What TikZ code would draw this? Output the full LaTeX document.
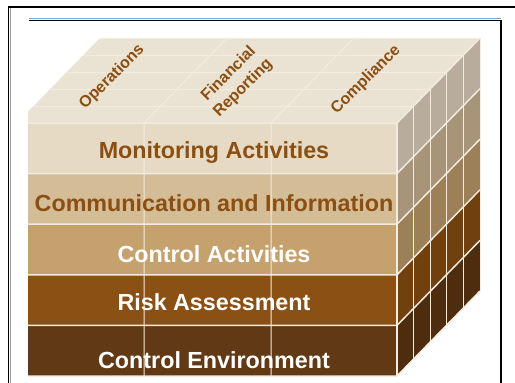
\documentclass[tikz,border=0pt]{standalone}
\usepackage{fontspec}
\setmainfont{Liberation Sans}
\definecolor{topface}{HTML}{EAE2D2}
\definecolor{gridline}{HTML}{F2EBDF}
\definecolor{labelbrown}{HTML}{8B4F12}
\definecolor{monfront}{HTML}{E6DAC4}
\definecolor{monside}{HTML}{B8AC9C}
\definecolor{comfront}{HTML}{D4BC97}
\definecolor{comside}{HTML}{A89478}
\definecolor{actfront}{HTML}{C4A16D}
\definecolor{actside}{HTML}{9C8058}
\definecolor{riskfront}{HTML}{8B5013}
\definecolor{riskside}{HTML}{70400F}
\definecolor{envfront}{HTML}{613914}
\definecolor{envside}{HTML}{4E2C0E}
\tikzset{
  layertext/.style={font=\bfseries\fontsize{23.3}{26}\selectfont, anchor=base},
  objtext/.style={font=\bfseries\fontsize{16}{20.5}\selectfont, text=labelbrown, rotate=45, align=center}
}

\begin{document}
\begin{tikzpicture}[x=1pt,y=-1pt]
  \useasboundingbox (0,0) rectangle (515,383);
  % frames
  \draw[line width=1.6pt] (8.5,383) -- (8.5,7) -- (515,7);
  \draw[black!40, line width=0.8pt] (10.2,8) -- (10.2,383);
  \draw[cyan!50!blue!50, line width=1pt] (29,18.5) -- (501,18.5);
  \draw[line width=1.4pt] (29,20.3) -- (501,20.3) -- (501,383);
  % cube
  \begin{scope}
    \clip (28,0) rectangle (515,383);
    \fill[topface] (17,123) -- (100,38) -- (480,38) -- (397,123) -- cycle;
    \foreach \i/\f/\s in {0/monfront/monside, 1/comfront/comside, 2/actfront/actside, 3/riskfront/riskside, 4/envfront/envside} {
      \pgfmathsetmacro\ya{123+50.6*\i}
      \pgfmathsetmacro\yb{\ya+50.6}
      \fill[\f] (17,\ya) rectangle (397,\yb);
      \fill[\s] (397,\ya) -- (480,\ya-85) -- (480,\yb-85) -- (397,\yb) -- cycle;
    }
    \foreach \i in {0,...,5} \draw[gridline, line width=1.5pt] (17,123+50.6*\i) -- (397,123+50.6*\i) -- ++(83,-85);
    \draw[gridline, line width=1.2pt] (397,123) -- (397,376);
    \foreach \x in {144,271} \draw[gridline, line width=1pt] (\x,376) -- (\x,123) -- ++(83,-85);
    \foreach \k in {1,...,5} \draw[gridline, line width=1pt] (397+16.6*\k,376-17*\k) -- (397+16.6*\k,123-17*\k) -- ++(-380,0);
  \end{scope}
  % labels
  \node[layertext, text=labelbrown] (monitoring) at (214,158) {Monitoring Activities};
  \node[layertext, text=labelbrown] (communication) at (214,211.5) {Communication and Information};
  \node[layertext, text=white] (activities) at (214,262) {Control Activities};
  \node[layertext, text=white] (risk) at (214,310) {Risk Assessment};
  \node[layertext, text=white] (environment) at (214,368) {Control Environment};
  \node[objtext] (operations) at (112,77) {Operations};
  \node[objtext] (financial) at (236,81) {Financial\\Reporting};
  \node[objtext] (compliance) at (366,80) {Compliance};
\end{tikzpicture}
\end{document}
